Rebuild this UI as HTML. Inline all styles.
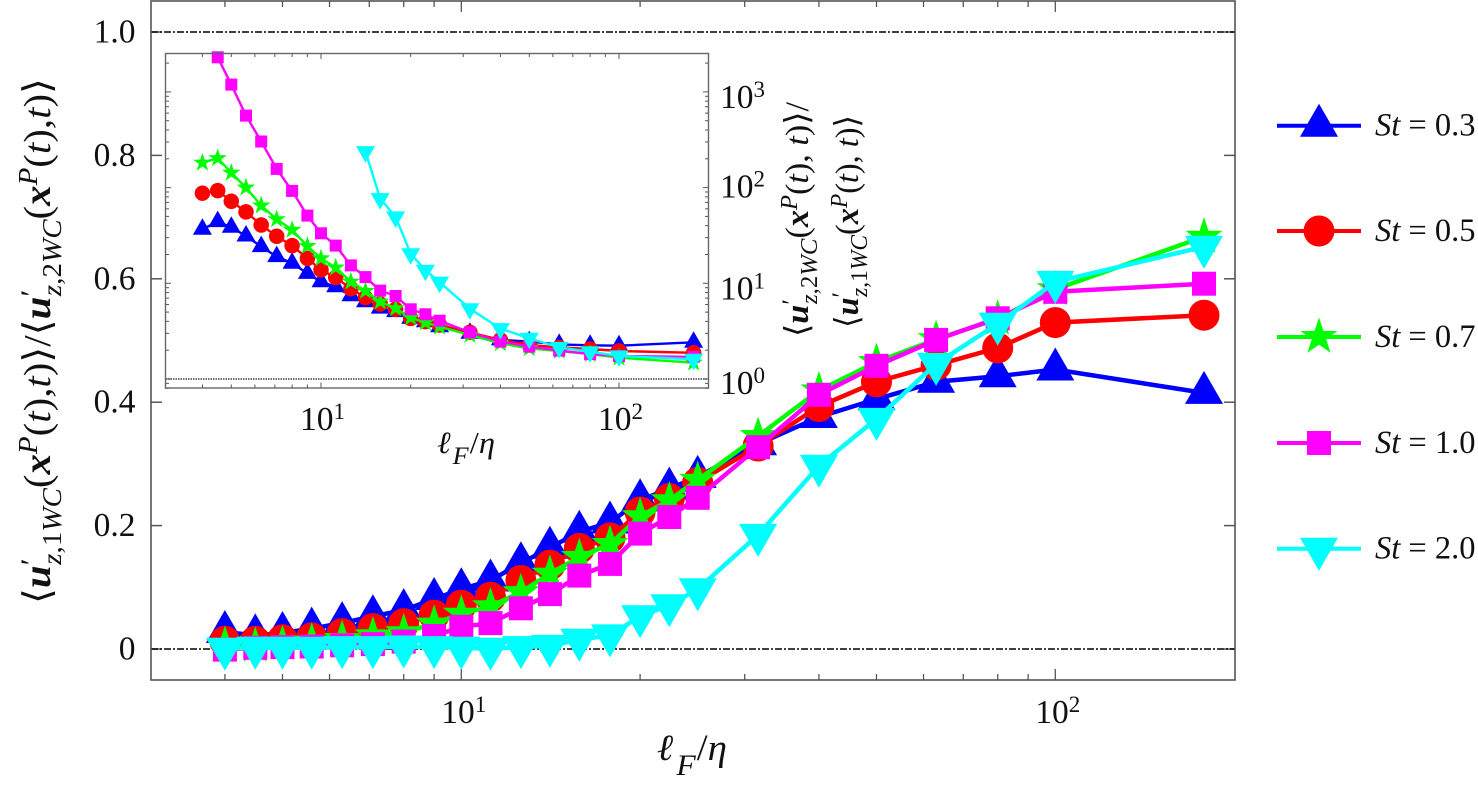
<!DOCTYPE html>
<html>
<head>
<meta charset="utf-8">
<title>Velocity ratio chart</title>
<style>
html,body{margin:0;padding:0;background:#fff;width:1478px;height:787px;overflow:hidden}
svg{display:block}
text{font-family:"Liberation Serif","DejaVu Serif",serif;fill:#111}
.i{font-style:italic}
.b{font-weight:bold;font-style:italic}
.g{font-family:"DejaVu Sans","Liberation Serif",serif;font-weight:200}
</style>
</head>
<body>
<svg id="chart" xmlns="http://www.w3.org/2000/svg" width="1478" height="787" viewBox="0 0 1478 787">
  <g id="main-layer"></g>
  <g id="inset-layer"></g>
  <g id="tick-label-layer"></g>

  <text x="657" y="760" font-size="37" textLength="70" lengthAdjust="spacingAndGlyphs"><tspan class="i">ℓ</tspan><tspan class="i" font-size="30" dy="15" dx="3">F</tspan><tspan dy="-15" dx="1">/</tspan><tspan class="i">η</tspan></text>
  <text x="437" y="453" font-size="31" textLength="58" lengthAdjust="spacingAndGlyphs"><tspan class="i">ℓ</tspan><tspan class="i" font-size="25" dy="11" dx="2">F</tspan><tspan dy="-11" dx="1">/</tspan><tspan class="i">η</tspan></text>

  <text transform="translate(50,604) rotate(-90)" font-size="38" textLength="526" lengthAdjust="spacingAndGlyphs"><tspan class="g">⟨</tspan><tspan class="b">u</tspan><tspan font-size="30" dy="-9">′</tspan><tspan class="i" font-size="27" dy="20" dx="-6">z</tspan><tspan font-size="27">,1</tspan><tspan class="i" font-size="27">WC</tspan><tspan dy="-11">(</tspan><tspan class="b">x</tspan><tspan class="i" font-size="27" dy="-13">P</tspan><tspan dy="13">(</tspan><tspan class="i">t</tspan><tspan>),</tspan><tspan class="i">t</tspan><tspan>)</tspan><tspan class="g">⟩</tspan><tspan>/</tspan><tspan class="g">⟨</tspan><tspan class="b">u</tspan><tspan font-size="30" dy="-9">′</tspan><tspan class="i" font-size="27" dy="20" dx="-6">z</tspan><tspan font-size="27">,2</tspan><tspan class="i" font-size="27">WC</tspan><tspan dy="-11">(</tspan><tspan class="b">x</tspan><tspan class="i" font-size="27" dy="-13">P</tspan><tspan dy="13">(</tspan><tspan class="i">t</tspan><tspan>),</tspan><tspan class="i">t</tspan><tspan>)</tspan><tspan class="g">⟩</tspan></text>

  <text transform="translate(808,337) rotate(-90)" font-size="33" textLength="235" lengthAdjust="spacingAndGlyphs"><tspan class="g">⟨</tspan><tspan class="b">u</tspan><tspan font-size="26" dy="-8">′</tspan><tspan class="i" font-size="24" dy="17" dx="-5">z</tspan><tspan font-size="24">,2</tspan><tspan class="i" font-size="24">WC</tspan><tspan dy="-9">(</tspan><tspan class="b">x</tspan><tspan class="i" font-size="24" dy="-11">P</tspan><tspan dy="11">(</tspan><tspan class="i">t</tspan><tspan>), </tspan><tspan class="i">t</tspan><tspan>)</tspan><tspan class="g">⟩</tspan><tspan>/</tspan></text>
  <text transform="translate(858,328) rotate(-90)" font-size="33" textLength="213" lengthAdjust="spacingAndGlyphs"><tspan class="g">⟨</tspan><tspan class="b">u</tspan><tspan font-size="26" dy="-8">′</tspan><tspan class="i" font-size="24" dy="17" dx="-5">z</tspan><tspan font-size="24">,1</tspan><tspan class="i" font-size="24">WC</tspan><tspan dy="-9">(</tspan><tspan class="b">x</tspan><tspan class="i" font-size="24" dy="-11">P</tspan><tspan dy="11">(</tspan><tspan class="i">t</tspan><tspan>), </tspan><tspan class="i">t</tspan><tspan>)</tspan><tspan class="g">⟩</tspan></text>

  <g id="legend-layer"></g>
</svg>
<script>
// ---- data ----
const xValues = [4,4.5,5,5.6,6.3,7.1,8,9,10,11.2,12.6,14.1,15.8,17.8,20,22.4,25,31.6,40,50,63,80,100,178];

const seriesNames = ["St = 0.3","St = 0.5","St = 0.7","St = 1.0","St = 2.0"];
const stLabels = ["0.3","0.5","0.7","1.0","2.0"];

const mainSt03 = [.0276,.022,.026,.033,.042,.053,.063,.081,.097,.111,.139,.164,.19,.205,.241,.26,.279,.332,.376,.405,.433,.442,.453,.415];
const mainSt05 = [.0125,.0125,.015,.018,.025,.033,.041,.055,.071,.084,.111,.136,.163,.18,.222,.244,.27,.329,.393,.433,.46,.488,.529,.541];
const mainSt07 = [.0065,.005,.008,.012,.016,.022,.027,.041,.057,.069,.092,.122,.149,.17,.215,.241,.274,.345,.419,.465,.502,.535,.583,.668];
const mainSt10 = [-.001,.002,.003,.004,.006,.008,.012,.021,.036,.042,.066,.089,.119,.138,.187,.214,.245,.327,.412,.459,.501,.536,.579,.592];
const mainSt20 = [.0005,.002,.002,.002,.003,.003,.004,.003,.002,.0005,.003,.005,.015,.022,.053,.071,.097,.185,.297,.373,.462,.527,.595,.652];

const insetSt03 = [36.7,44.1,38.5,31.2,24.2,19,16.2,12.7,10.4,9.2,7.4,6.4,5.5,5.06,4.3,3.97,3.52,3.0,2.56,2.46,2.3,2.25,2.23,2.42];
const insetSt05 = [87.3,93,72,55.7,40.7,31,24.8,18.2,13.8,11.5,8.8,7.08,6.08,5.35,4.3,3.97,3.67,3.07,2.56,2.27,2.14,2.06,1.96,1.88];
const insetSt07 = [182,203,143,100,64.9,46.7,36.1,24.5,18.2,14.6,10.4,8.3,6.43,5.48,4.38,3.88,3.52,2.88,2.36,2.09,1.96,1.82,1.67,1.48];
const insetSt10 = [null,2301,1193,566,303,157,92.3,51,33.3,24.8,15.4,11.6,8.38,7.37,5.35,4.74,4.07,3.07,2.46,2.18,1.98,1.82,1.74,1.70];
const insetSt20 = [null,null,null,null,null,null,null,null,null,null,null,238,76.7,49.4,20.4,13.7,10.3,5.43,3.36,2.66,2.14,1.93,1.74,1.61];

const mainYTicks = [0,0.2,0.4,0.6,0.8,1.0];
const mainYTickLabels = ["0","0.2","0.4","0.6","0.8","1.0"];
const xDecades = [10,100];
const xDecadeExponents = ["1","2"];
const insetYDecades = [1,10,100,1000];
const insetYExponents = ["0","1","2","3"];

// ---- layout ----
const NS = "http://www.w3.org/2000/svg";
const colors = ["#0000ff","#ff0000","#00ff00","#ff00ff","#00ffff"];
const shapes = ["up","circle","star","square","down"];
const slugs = ["st-0-3","st-0-5","st-0-7","st-1-0","st-2-0"];
const frameColor = "#555";

const mainBox = {l:151,r:1235,t:1,b:680};
const insetBox = {l:165.5,r:708.5,t:53.5,b:388};

function xMain(v){ return 461.3 + 594*Math.log10(v/10); }
function yMain(v){ return 649 - 617*v; }
function xInset(v){ return 321 + 298*Math.log10(v/10); }
function yInset(v){ return 379 - 95.7*Math.log10(v); }

function make(parent, tag, attrs){
  const el = document.createElementNS(NS, tag);
  for (const k in attrs) el.setAttribute(k, attrs[k]);
  parent.appendChild(el);
  return el;
}

function drawMarker(parent, shape, cx, cy, s, color){
  let el;
  if (shape === "up" || shape === "down"){
    const d = shape === "up" ? 1 : -1;
    const pts = [[cx, cy-22*s*d],[cx+19*s, cy+11*s*d],[cx-19*s, cy+11*s*d]];
    el = make(parent, "polygon", {points: pts.map(p=>p[0].toFixed(1)+","+p[1].toFixed(1)).join(" "), fill: color});
  } else if (shape === "circle"){
    el = make(parent, "circle", {cx: cx.toFixed(1), cy: cy.toFixed(1), r: 15.5*s, fill: color});
  } else if (shape === "square"){
    el = make(parent, "rect", {x: (cx-12*s).toFixed(1), y: (cy-12*s).toFixed(1), width: 24*s, height: 24*s, fill: color});
  } else {
    const pts = [];
    for (let i=0;i<10;i++){
      const r = (i%2===0 ? 19.5 : 7.6)*s;
      const a = -Math.PI/2 + i*Math.PI/5;
      pts.push((cx+r*Math.cos(a)).toFixed(1)+","+(cy+r*Math.sin(a)).toFixed(1));
    }
    el = make(parent, "polygon", {points: pts.join(" "), fill: color});
  }
  
  
}

function drawSeries(parent, vals, fx, fy, idx, lw, s, prefix){
  const g = make(parent, "g", {});
  
  
  const pts = [];
  vals.forEach((v,i)=>{ if (v !== null) pts.push([fx(xValues[i]), fy(v)]); });
  const line = make(g, "polyline", {points: pts.map(p=>p[0].toFixed(1)+","+p[1].toFixed(1)).join(" "), fill:"none", stroke: colors[idx], "stroke-width": lw, "stroke-linejoin":"round"});
  
  
  pts.forEach(p=>drawMarker(g, shapes[idx], p[0], p[1], s, colors[idx]));
}

function tick(parent, x1, y1, x2, y2, w){
  const t = make(parent, "line", {x1, y1, x2, y2, stroke: frameColor, "stroke-width": w});
  
  
}

function logMinorValues(lo, hi){
  const out = [];
  for (let d = Math.pow(10, Math.floor(Math.log10(lo))); d <= hi; d *= 10){
    for (let m = 1; m < 10; m++){
      const v = m*d;
      if (v >= lo && v <= hi) out.push({v, major: m === 1});
    }
  }
  return out;
}

// ---- main plot ----
const mainLayer = document.getElementById("main-layer");
mainYTicks.forEach(v=>{
  tick(mainLayer, mainBox.l, yMain(v), mainBox.l+11, yMain(v), 1.5);
  tick(mainLayer, mainBox.r, yMain(v), mainBox.r-11, yMain(v), 1.5);
});
logMinorValues(3,200).forEach(o=>{
  if (o.v <= 3 || o.v >= 200) return;
  const len = o.major ? 11 : 6;
  tick(mainLayer, xMain(o.v), mainBox.b, xMain(o.v), mainBox.b-len, 1.3);
  tick(mainLayer, xMain(o.v), mainBox.t, xMain(o.v), mainBox.t+len, 1.3);
});
[0,1].forEach(v=>{
  const ref = make(mainLayer, "line", {x1: mainBox.l, x2: mainBox.r, y1: yMain(v), y2: yMain(v), stroke:"#000", "stroke-width":1.6, "stroke-dasharray":"7 2 2 2"});
  
  
});
[mainSt03,mainSt05,mainSt07,mainSt10,mainSt20].forEach((vals,i)=>drawSeries(mainLayer, vals, xMain, yMain, i, 4.5, 1, 'main'));
const mainFrame = make(mainLayer, "rect", {x: mainBox.l, y: mainBox.t, width: mainBox.r-mainBox.l, height: mainBox.b-mainBox.t, fill:"none", stroke: frameColor, "stroke-width":1.6});



// ---- inset ----
const insetLayer = document.getElementById("inset-layer");
const insetBg = make(insetLayer, "rect", {x: insetBox.l, y: insetBox.t, width: insetBox.r-insetBox.l, height: insetBox.b-insetBox.t, fill:"#fff"});


logMinorValues(3,200).forEach(o=>{
  if (o.v <= 3 || o.v >= 200) return;
  const len = o.major ? 5.5 : 3.5;
  tick(insetLayer, xInset(o.v), insetBox.b, xInset(o.v), insetBox.b-len, 1);
  tick(insetLayer, xInset(o.v), insetBox.t, xInset(o.v), insetBox.t+len, 1);
});
logMinorValues(0.8,2500).forEach(o=>{
  const len = o.major ? 5.5 : 3.5;
  tick(insetLayer, insetBox.l, yInset(o.v), insetBox.l+len, yInset(o.v), 1);
  tick(insetLayer, insetBox.r, yInset(o.v), insetBox.r-len, yInset(o.v), 1);
});
const insetRef = make(insetLayer, "line", {x1: insetBox.l, x2: insetBox.r, y1: yInset(1), y2: yInset(1), stroke:"#444", "stroke-width":1.4, "stroke-dasharray":"1.5 1"});


[insetSt03,insetSt05,insetSt07,insetSt10,insetSt20].forEach((vals,i)=>drawSeries(insetLayer, vals, xInset, yInset, i, 2.4, 0.5, 'inset'));
const insetFrame = make(insetLayer, "rect", {x: insetBox.l, y: insetBox.t, width: insetBox.r-insetBox.l, height: insetBox.b-insetBox.t, fill:"none", stroke:"#666", "stroke-width":1.4});



// ---- tick labels ----
const labelLayer = document.getElementById("tick-label-layer");
function powerLabel(x, y, exp, name){
  const t = make(labelLayer, "text", {x, y, "font-size":33.5});
  
  
  const a = make(t, "tspan", {}); a.textContent = "10";
  const b = make(t, "tspan", {dy:-11, "font-size":23}); b.textContent = exp;
}
mainYTicks.forEach((v,i)=>{
  const t = make(labelLayer, "text", {x:135.5, y: yMain(v)+10.5, "font-size":33.5, "text-anchor":"end"});
  
  
  t.textContent = mainYTickLabels[i];
});
xDecades.forEach((v,i)=>{
  powerLabel(xMain(v)-20, 723, xDecadeExponents[i], 'x-tick-label');
  powerLabel(xInset(v)-21, 430, xDecadeExponents[i], 'inset-x-tick-label');
});
const insetLabelNudges = [15,16,10,16];
insetYDecades.forEach((v,i)=>{
  powerLabel(720, yInset(v)+insetLabelNudges[i], insetYExponents[i], 'inset-y-tick-label');
});

// ---- legend ----
const legendLayer = document.getElementById("legend-layer");
const legendY = [125.7,231,337,443,548.7];
seriesNames.forEach((name,i)=>{
  const g = make(legendLayer, "g", {});
  
  
  const l = make(g, "line", {x1:1277, x2:1361, y1:legendY[i], y2:legendY[i], stroke:colors[i], "stroke-width":4});
  
  
  drawMarker(g, shapes[i], 1319, legendY[i], 1, colors[i]);
  const t = make(g, "text", {x:1375, y:legendY[i]+10, "font-size":32.5});
  
  
  const s = make(t, "tspan", {class:"i"}); s.textContent = "St";
  const r = make(t, "tspan", {}); r.textContent = " = " + stLabels[i];
});
</script>
</body>
</html>
